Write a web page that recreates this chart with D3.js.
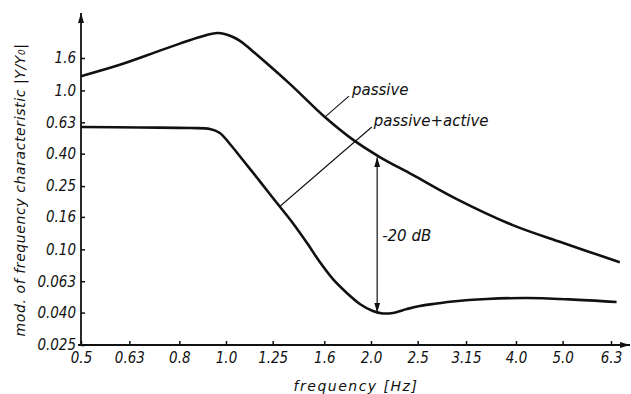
<!DOCTYPE html>
<html lang="en">
<head>
  <meta charset="UTF-8">
  <title>Frequency characteristic - passive vs passive+active</title>
  <style>
    body {
      margin: 0;
      background: #fff;
    }
    svg {
      display: block;
      font-family: "DejaVu Sans", sans-serif;
      font-style: italic;
    }
    .tick text {
      font-family: "DejaVu Sans Condensed", "DejaVu Sans", sans-serif;
      font-stretch: condensed;
      font-size: 15px;
      fill: #111;
    }
    .tick line {
      stroke: #111;
      stroke-width: 1.5;
    }
    .curve {
      fill: none;
      stroke: #111;
      stroke-width: 2.6;
    }
    .leader {
      stroke: #111;
      stroke-width: 1.1;
    }
    .note {
      font-size: 15px;
      fill: #111;
    }
  </style>
</head>
<body>
  <div id="chart"></div>
  <script src="https://d3js.org/d3.v7.min.js"></script>
  <script>
    // tick values and their printed labels
    var xTicks = [0.5, 0.63, 0.8, 1.0, 1.25, 1.6, 2.0, 2.5, 3.15, 4.0, 5.0, 6.3];
    var xTickLabels = ["0.5", "0.63", "0.8", "1.0", "1.25", "1.6", "2.0", "2.5", "3.15", "4.0", "5.0", "6.3"];
    var yTicks = [0.025, 0.040, 0.063, 0.10, 0.16, 0.25, 0.40, 0.63, 1.0, 1.6];
    var yTickLabels = ["0.025", "0.040", "0.063", "0.10", "0.16", "0.25", "0.40", "0.63", "1.0", "1.6"];

    // passive curve (frequency in Hz, |Y/Y0|)
    var passiveFreq = [0.5, 0.602, 0.729, 0.802, 0.883, 0.962, 1.034, 1.084, 1.148, 1.357, 1.604, 1.834, 2.086, 2.442, 3.014, 3.938, 5.0, 6.57];
    var passiveVal = [1.23, 1.45, 1.78, 1.97, 2.17, 2.30, 2.17, 1.99, 1.72, 1.10, 0.68, 0.49, 0.381, 0.294, 0.207, 0.142, 0.110, 0.083];

    // passive + active curve
    var activeFreq = [0.5, 0.663, 0.842, 0.926, 0.971, 1.019, 1.084, 1.159, 1.233, 1.293, 1.377, 1.472, 1.566, 1.666, 1.782, 1.896, 2.018, 2.117, 2.220, 2.374, 2.525, 2.740, 2.956, 3.478, 4.210, 5.17, 6.47];
    var activeVal = [0.589, 0.584, 0.580, 0.572, 0.540, 0.460, 0.365, 0.283, 0.223, 0.186, 0.146, 0.110, 0.0832, 0.0651, 0.0531, 0.0453, 0.0409, 0.0395, 0.0398, 0.0421, 0.0440, 0.0456, 0.0470, 0.0487, 0.0494, 0.0484, 0.0466];

    // annotations: leader lines [freq, value] and the -20 dB arrow
    var passiveLeader = [[1.604, 0.68], [1.80, 0.92]];
    var activeLeader = [[1.293, 0.186], [2.008, 0.589]];
    var dbArrowFreq = 2.06;
    var dbArrowVals = [0.38, 0.0400];

    var width = 631, height = 394;
    var x0 = 81, y0 = 345;

    var svg = d3.select("#chart")
      .append("svg")
      .attr("width", width)
      .attr("height", height);

    var defs = svg.append("defs");
    defs.append("marker")
      .attr("id", "head")
      .attr("viewBox", "0 0 10 6")
      .attr("refX", 10)
      .attr("refY", 3)
      .attr("markerWidth", 10)
      .attr("markerHeight", 6)
      .attr("markerUnits", "userSpaceOnUse")
      .attr("orient", "auto-start-reverse")
      .append("path")
      .attr("d", "M0,0 L10,3 L0,6 Z")
      .attr("fill", "#111");

    var x = d3.scaleLog().domain([0.5, 6.3]).range([x0, 611]);
    var y = d3.scaleLog().domain([0.025, 1.6]).range([y0, 58]);

    // axes
    svg.append("g")
      .attr("transform", "translate(0," + y0 + ")")
      .call(d3.axisBottom(x)
        .tickValues(xTicks)
        .tickSize(-4)
        .tickPadding(7)
        .tickFormat(function(d, i) { return xTickLabels[i]; }))
      .call(function(g) { g.select(".domain").remove(); });

    svg.append("g")
      .attr("transform", "translate(" + x0 + ",0)")
      .call(d3.axisLeft(y)
        .tickValues(yTicks)
        .tickSize(-4)
        .tickPadding(5)
        .tickFormat(function(d, i) { return yTickLabels[i]; }))
      .call(function(g) { g.select(".domain").remove(); });

    svg.append("line")
      .attr("x1", x0 - 3).attr("y1", y0)
      .attr("x2", 630).attr("y2", y0)
      .attr("stroke", "#111")
      .attr("stroke-width", 1.8)
      .attr("marker-end", "url(#head)");

    svg.append("line")
      .attr("x1", x0).attr("y1", y0)
      .attr("x2", x0).attr("y2", 13)
      .attr("stroke", "#111")
      .attr("stroke-width", 1.8)
      .attr("marker-end", "url(#head)");

    // curves
    var line = d3.line()
      .x(function(d) { return x(d[0]); })
      .y(function(d) { return y(d[1]); })
      .curve(d3.curveCatmullRom.alpha(0.5));

    svg.append("path")
      .datum(d3.zip(passiveFreq, passiveVal))
      .attr("class", "curve")
      .attr("d", line);

    svg.append("path")
      .datum(d3.zip(activeFreq, activeVal))
      .attr("class", "curve")
      .attr("d", line);

    // leaders and labels
    var straight = d3.line()
      .x(function(d) { return x(d[0]); })
      .y(function(d) { return y(d[1]); });

    svg.append("path")
      .datum(passiveLeader)
      .attr("class", "leader")
      .attr("d", straight);

    svg.append("path")
      .datum(activeLeader)
      .attr("class", "leader")
      .attr("d", straight);

    svg.append("text")
      .attr("class", "note")
      .attr("x", x(passiveLeader[1][0]) + 3)
      .attr("y", y(passiveLeader[1][1]) - 1)
      .text("passive");

    svg.append("text")
      .attr("class", "note")
      .attr("x", x(activeLeader[1][0]) + 2)
      .attr("y", y(activeLeader[1][1]) - 1)
      .text("passive+active");

    svg.append("line")
      .attr("x1", x(dbArrowFreq)).attr("y1", y(dbArrowVals[0]))
      .attr("x2", x(dbArrowFreq)).attr("y2", y(dbArrowVals[1]))
      .attr("stroke", "#111")
      .attr("stroke-width", 1.2)
      .attr("marker-start", "url(#head)")
      .attr("marker-end", "url(#head)");

    svg.append("text")
      .attr("class", "note")
      .attr("x", x(dbArrowFreq) + 5)
      .attr("y", (y(dbArrowVals[0]) + y(dbArrowVals[1])) / 2 + 6)
      .text("-20 dB");

    // axis titles
    svg.append("text")
      .attr("x", 356)
      .attr("y", 391)
      .attr("text-anchor", "middle")
      .attr("font-size", 14)
      .attr("letter-spacing", 1.5)
      .attr("fill", "#111")
      .text("frequency [Hz]");

    svg.append("text")
      .attr("transform", "translate(25,190) rotate(-90)")
      .attr("text-anchor", "middle")
      .attr("font-size", 14)
      .attr("letter-spacing", 0.6)
      .attr("fill", "#111")
      .text("mod. of frequency characteristic |Y/Y\u2080|");
  </script>
</body>
</html>
